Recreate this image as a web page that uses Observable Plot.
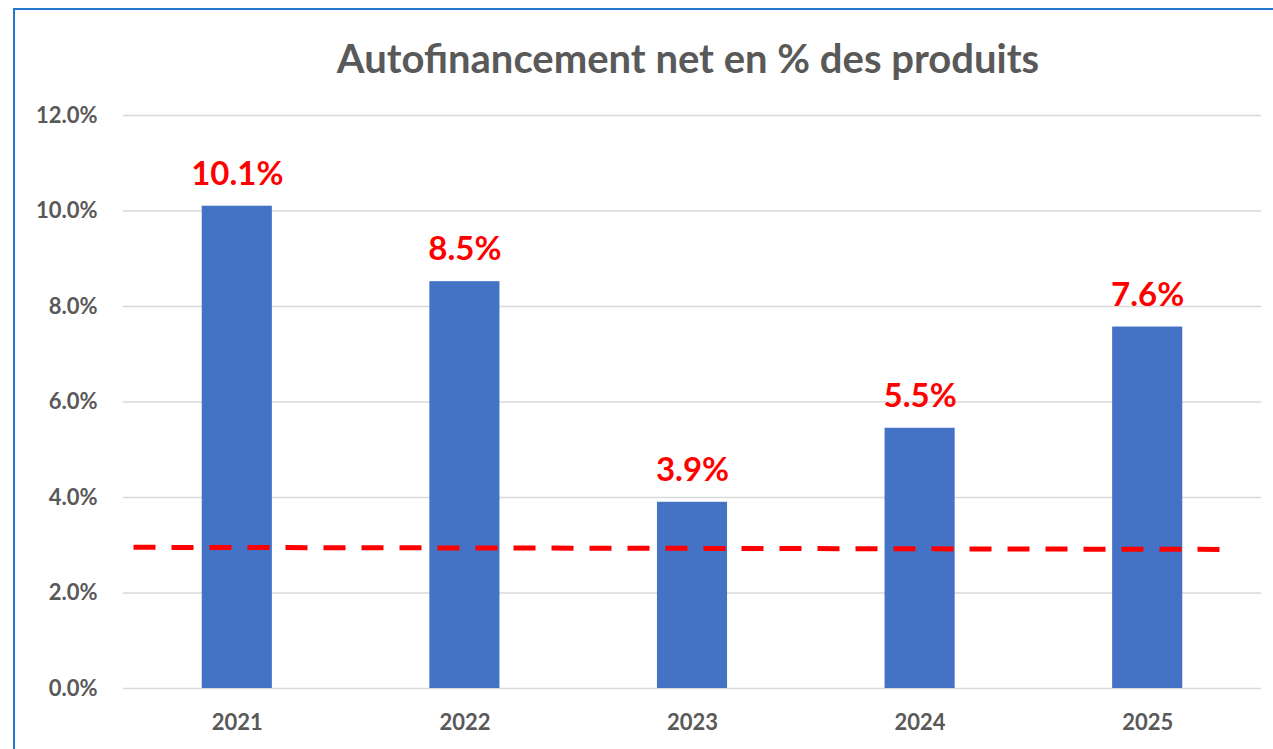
<!DOCTYPE html>
<html>
<head>
<meta charset="utf-8">
<script src="https://cdn.jsdelivr.net/npm/d3@7"></script>
<script src="https://cdn.jsdelivr.net/npm/@observablehq/plot@0.6"></script>
<style>
  html, body { margin: 0; padding: 0; background: #fff; overflow: hidden; }
  #wrap { position: relative; width: 1273px; height: 749px; }
  #frame { position: absolute; left: 13px; top: 8px; width: 1300px; height: 800px; border-left: 2px solid #2478CC; border-top: 2px solid #2478CC; box-sizing: border-box; }
  #title { position: absolute; left: 0; width: 1376px; top: 34px; text-align: center; font-family: Lato, sans-serif; font-weight: bold; font-size: 40px; line-height: normal; color: #595959; margin: 0; }
  #chart { position: absolute; left: 0; top: 0; }
</style>
</head>
<body>
<div id="wrap">
  <div id="frame"></div>
  <div id="chart"></div>
  <div id="title">Autofinancement net en % des produits</div>
</div>
<script>
const years = [2021, 2022, 2023, 2024, 2025];
const values = [10.1, 8.52, 3.9, 5.45, 7.57];
const labels = ["10.1%", "8.5%", "3.9%", "5.5%", "7.6%"];
const yTicks = [0, 2, 4, 6, 8, 10, 12];
// dashed reference line endpoints (year position, %)
const trendX = [2020.544, 2025.324];
const trendY = [2.957, 2.913];

const data = years.map((y, i) => ({year: y, value: values[i], label: labels[i]}));
const trend = [{x1: trendX[0], y1: trendY[0], x2: trendX[1], y2: trendY[1]}];
const half = 0.154;

const plot = Plot.plot({
  width: 1273,
  height: 749,
  marginLeft: 123,
  marginRight: 12,
  marginTop: 115,
  marginBottom: 61,
  style: {fontFamily: "Lato, sans-serif", color: "#595959", background: "transparent"},
  x: {type: "linear", domain: [2020.5, 2025.5], axis: null},
  y: {domain: [0, 12], axis: null},
  marks: [
    Plot.gridY(yTicks, {stroke: "#d9d9d9", strokeOpacity: 1, strokeWidth: 1.5}),
    Plot.axisY(yTicks, {tickSize: 0, tickPadding: 26, fontSize: 22, fontWeight: "bold", tickFormat: d => d.toFixed(1) + "%", label: null}),
    Plot.axisX(years, {tickSize: 0, tickPadding: 26, fontSize: 22, fontWeight: "bold", tickFormat: d => String(d), label: null}),
    Plot.rectY(data, {x1: d => d.year - half, x2: d => d.year + half, y: "value", fill: "#4472C4"}),
    Plot.link(trend, {x1: "x1", y1: "y1", x2: "x2", y2: "y2", stroke: "#ff0000", strokeWidth: 5, strokeDasharray: "22,16"}),
    Plot.text(data, {x: "year", y: "value", text: "label", dy: -32, fontSize: 33, fontWeight: "bold", fill: "#ff0000"})
  ]
});
document.getElementById("chart").appendChild(plot);
</script>
</body>
</html>
